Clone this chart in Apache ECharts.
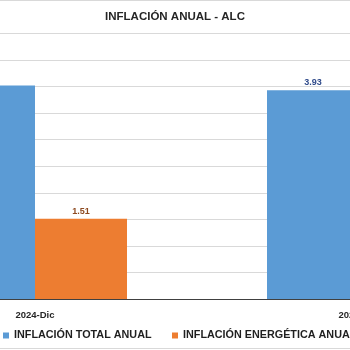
<!DOCTYPE html>
<html><head><meta charset="utf-8">
<script src="https://cdn.jsdelivr.net/npm/echarts@6/dist/echarts.min.js"></script>
<style>html,body{margin:0;padding:0;background:#fff}#c{width:350px;height:350px}</style>
</head><body><div id="c"></div>
<script>
const categories = ['2024-Dic', '2025-Jun'];
const totalAnual = [4.02, 3.93];
const energeticaAnual = [1.51, 1.10];
const seriesNames = ['INFLACIÓN TOTAL ANUAL', 'INFLACIÓN ENERGÉTICA ANUAL'];
const yTicks = [0, 0.5, 1, 1.5, 2, 2.5, 3, 3.5, 4, 4.5, 5];

const chart = echarts.init(document.getElementById('c'), null, {renderer: 'canvas'});
const font = '"Liberation Sans", Arial, sans-serif';
const legendText = {fontFamily: font, fontSize: 10.8, fontWeight: 'bold', color: '#1f1f1f'};
chart.setOption({
  animation: false,
  backgroundColor: '#fff',
  title: {
    text: 'INFLACIÓN ANUAL - ALC', left: 'center', top: 6,
    textStyle: {fontFamily: font, fontSize: 11.5, fontWeight: 'bold', color: '#262626'}
  },
  graphic: [
    {type: 'line', shape: {x1: 0, y1: 0.5, x2: 350, y2: 0.5}, style: {stroke: '#d9d9d9', lineWidth: 1}},
    {type: 'line', shape: {x1: 0, y1: 348.5, x2: 350, y2: 348.5}, style: {stroke: '#d9d9d9', lineWidth: 1}}
  ],
  legend: [
    {left: 3, top: 330, padding: 0, itemWidth: 6, itemHeight: 6, itemGap: 5, icon: 'rect',
     textStyle: legendText, data: [seriesNames[0]]},
    {left: 172, top: 330, padding: 0, itemWidth: 6, itemHeight: 6, itemGap: 6, icon: 'rect',
     textStyle: legendText, data: [seriesNames[1]]}
  ],
  grid: {left: -127, right: -171, top: 33.5, bottom: 51, containLabel: false, outerBoundsMode: 'none'},
  xAxis: {
    type: 'category', data: categories,
    axisLine: {lineStyle: {color: '#404040', width: 1}},
    axisTick: {show: false},
    axisLabel: {fontFamily: font, fontSize: 9.5, fontWeight: 'bold', color: '#262626', margin: 11}
  },
  yAxis: {
    type: 'value', min: yTicks[0], max: yTicks[yTicks.length - 1], interval: 0.5,
    axisLabel: {show: false}, axisLine: {show: false}, axisTick: {show: false},
    splitLine: {lineStyle: {color: '#d9d9d9', width: 1}}
  },
  series: [
    {name: seriesNames[0], type: 'bar', data: totalAnual, barWidth: 92, barGap: '0%',
     itemStyle: {color: '#5B9BD5'},
     label: {show: true, position: 'top', distance: 3, formatter: p => p.value.toFixed(2),
       fontFamily: font, fontSize: 9, fontWeight: 'bold', color: '#2F4A8A'}},
    {name: seriesNames[1], type: 'bar', data: energeticaAnual, barWidth: 92,
     itemStyle: {color: '#ED7D31'},
     label: {show: true, position: 'top', distance: 3, formatter: p => p.value.toFixed(2),
       fontFamily: font, fontSize: 9, fontWeight: 'bold', color: '#8E4A20'}}
  ]
});
</script></body></html>
